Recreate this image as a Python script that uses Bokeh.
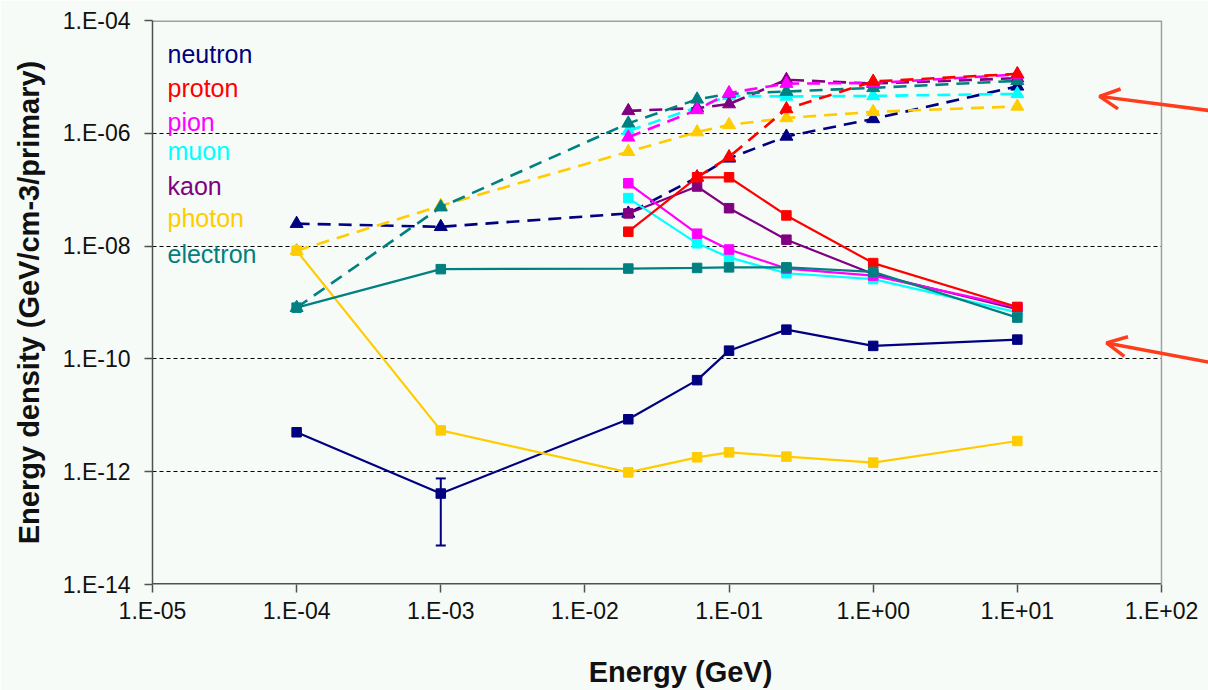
import math
from bokeh.plotting import figure
from bokeh.models import (ColumnDataSource, FixedTicker, Arrow, OpenHead, Whisker,
                          TeeHead, Range1d, BoxAnnotation, Span)
from bokeh.core.properties import value
from bokeh.embed import file_html
from bokeh.resources import INLINE

# ---------------- data ----------------
particles = ["neutron", "proton", "pion", "muon", "kaon", "photon", "electron"]
colors = ["#000080", "#FF0000", "#FF00FF", "#00FFFF", "#800080", "#FFCC00", "#008080"]

energy_all = [1e-4, 1e-3, 0.02, 0.06, 0.1, 0.25, 1.0, 10.0]
energy_hi = [0.02, 0.06, 0.1, 0.25, 1.0, 10.0]
energy_proton_dash = [0.06, 0.1, 0.25, 1.0, 10.0]

# solid lines (square markers)
neutron_solid = [5.0e-12, 4.1e-13, 8.5e-12, 4.2e-11, 1.4e-10, 3.3e-10, 1.7e-10, 2.2e-10]
photon_solid = [8.3e-9, 5.4e-12, 9.7e-13, 1.8e-12, 2.2e-12, 1.85e-12, 1.45e-12, 3.5e-12]
electron_solid = [8.1e-10, 3.9e-9, 4.0e-9, 4.1e-9, 4.2e-9, 4.2e-9, 3.5e-9, 5.4e-10]
proton_solid = [1.8e-8, 1.66e-7, 1.66e-7, 3.5e-8, 5.0e-9, 8.3e-10]
pion_solid = [1.3e-7, 1.66e-8, 8.7e-9, 4.0e-9, 3.0e-9, 8.3e-10]
muon_solid = [7.1e-8, 1.12e-8, 6.3e-9, 3.3e-9, 2.6e-9, 6.7e-10]
kaon_solid = [3.8e-8, 1.14e-7, 4.7e-8, 1.3e-8, 3.2e-9, 7.6e-10]

# dashed lines (triangle markers)
neutron_dash = [2.5e-8, 2.2e-8, 3.8e-8, 1.66e-7, 3.6e-7, 8.8e-7, 1.8e-6, 6.8e-6]
photon_dash = [8.3e-9, 5.2e-8, 4.7e-7, 1.05e-6, 1.41e-6, 1.87e-6, 2.4e-6, 3.0e-6]
electron_dash = [8.1e-10, 4.9e-8, 1.5e-6, 4.0e-6, 5.0e-6, 5.5e-6, 6.4e-6, 8.5e-6]
proton_dash = [1.66e-7, 3.8e-7, 2.7e-6, 8.3e-6, 1.13e-5]
pion_dash = [8.5e-7, 2.6e-6, 5.2e-6, 7.6e-6, 7.8e-6, 1.1e-5]
muon_dash = [1.1e-6, 2.9e-6, 4.6e-6, 4.5e-6, 4.6e-6, 5.0e-6]
kaon_dash = [2.5e-6, 2.8e-6, 3.3e-6, 8.9e-6, 7.6e-6, 9.5e-6]

# error bar on neutron (solid) at 1e-3
err_energy = [1e-3]
err_low = [4.9e-14]
err_high = [7.6e-13]

x_ticks = [1e-5, 1e-4, 1e-3, 1e-2, 1e-1, 1e0, 1e1, 1e2]
x_tick_labels = ["1.E-05", "1.E-04", "1.E-03", "1.E-02", "1.E-01", "1.E+00", "1.E+01", "1.E+02"]
y_ticks = [1e-14, 1e-12, 1e-10, 1e-8, 1e-6, 1e-4]
y_tick_labels = ["1.E-14", "1.E-12", "1.E-10", "1.E-08", "1.E-06", "1.E-04"]
y_grid = [1e-12, 1e-10, 1e-8, 1e-6]

# ---------------- figure ----------------
BG = "#F7FBF7"
FONT = "Liberation Sans"
AX = "#505050"
BORDER = "#A0A0A0"

PX_DEC_X = 144.14          # px per decade (x)
PX_DEC_Y = 56.5            # px per decade (y)
X0, XAX_END = 1e-5, 1e2    # visible axis extent
Y0, Y1 = 1e-14, 1e-4
LEFT, TOP, BOTTOM = 152, 20, 105
W, H = 1208, 690
FW = W - LEFT
X1 = 10 ** (math.log10(X0) + FW / PX_DEC_X)   # frame extends to page edge

p = figure(width=W, height=H, x_axis_type="log", y_axis_type="log",
           x_range=Range1d(X0, X1), y_range=Range1d(Y0, Y1),
           output_backend="svg", toolbar_location=None,
           min_border_left=LEFT, min_border_right=0, min_border_top=TOP,
           min_border_bottom=BOTTOM,
           background_fill_color=BG, border_fill_color=BG,
           outline_line_color=None)

def px_to_data(dx, dy):
    """offset in px from the frame's top-left corner -> data coords"""
    return (10 ** (math.log10(X0) + dx / PX_DEC_X),
            10 ** (math.log10(Y1) - dy / PX_DEC_Y))

p.xgrid.visible = False
p.ygrid.ticker = FixedTicker(ticks=y_grid)
p.ygrid.grid_line_color = "black"
p.ygrid.grid_line_dash = "4 3"
p.ygrid.grid_line_width = 1

p.xaxis.ticker = FixedTicker(ticks=x_ticks)
p.yaxis.ticker = FixedTicker(ticks=y_ticks)
p.xaxis.major_label_overrides = dict(zip(x_ticks, x_tick_labels))
p.yaxis.major_label_overrides = dict(zip(y_ticks, y_tick_labels))

for ax in (p.xaxis, p.yaxis):
    ax.axis_line_color = AX
    ax.axis_line_width = 1.5
    ax.major_tick_line_color = AX
    ax.major_tick_line_width = 1.5
    ax.major_tick_in = 0
    ax.major_tick_out = 8
    ax.minor_tick_line_color = None
    ax.major_label_text_font = FONT
    ax.major_label_text_font_size = "23px"
    ax.major_label_text_color = "#111111"
    ax.axis_label_text_font = FONT
    ax.axis_label_text_font_style = "bold"
    ax.axis_label_text_font_size = "29px"
    ax.axis_label_text_color = "#111111"

p.xaxis.axis_line_color = None     # drawn below, only up to 1E+02
p.xaxis.axis_label = "Energy (GeV)"
p.xaxis.major_label_standoff = 5
p.xaxis.axis_label_standoff = 29
p.yaxis.axis_label = "Energy density (GeV/cm-3/primary)"
p.yaxis.major_label_standoff = 14
p.yaxis.axis_label_standoff = 15

# hide grid beyond 1E+02 and draw the chart border there
p.add_layout(BoxAnnotation(left=XAX_END, fill_color=BG, fill_alpha=1.0,
                           line_color=None, level="underlay"))
p.add_layout(Span(location=XAX_END, dimension="height", line_color=BORDER,
                  line_width=1.5))
p.segment(x0=[X0], y0=[Y1], x1=[XAX_END], y1=[Y1], line_color=BORDER, line_width=3)
p.segment(x0=[X0], y0=[Y0], x1=[XAX_END], y1=[Y0], line_color=AX, line_width=3)

cmap = dict(zip(particles, colors))

# dashed series
dash_series = [
    ("neutron", energy_all, neutron_dash),
    ("photon", energy_all, photon_dash),
    ("muon", energy_hi, muon_dash),
    ("kaon", energy_hi, kaon_dash),
    ("electron", energy_all, electron_dash),
    ("pion", energy_hi, pion_dash),
    ("proton", energy_proton_dash, proton_dash),
]
for name, xs, ys in dash_series:
    src = ColumnDataSource(dict(x=xs, y=ys))
    c = cmap[name]
    p.line("x", "y", source=src, line_color=c, line_width=2.6, line_dash="13 8")
    p.scatter("x", "y", source=src, marker="triangle", size=13,
              fill_color=c, line_color=c)

solid_series = [
    ("neutron", energy_all, neutron_solid),
    ("photon", energy_all, photon_solid),
    ("kaon", energy_hi, kaon_solid),
    ("muon", energy_hi, muon_solid),
    ("pion", energy_hi, pion_solid),
    ("proton", energy_hi, proton_solid),
    ("electron", energy_all, electron_solid),
]
for name, xs, ys in solid_series:
    src = ColumnDataSource(dict(x=xs, y=ys))
    c = cmap[name]
    p.line("x", "y", source=src, line_color=c, line_width=2.2)
    p.scatter("x", "y", source=src, marker="square", size=9.5,
              fill_color=c, line_color=c)

err_src = ColumnDataSource(dict(x=err_energy, lo=err_low, hi=err_high))
p.add_layout(Whisker(source=err_src, base="x", upper="hi", lower="lo",
                     dimension="height", line_color="#000080", line_width=2,
                     upper_head=TeeHead(size=10, line_color="#000080", line_width=2),
                     lower_head=TeeHead(size=10, line_color="#000080", line_width=2)))

# legend (text only, coloured)
leg_offsets = [33.5, 67.5, 102, 131, 166, 197.5, 233.5]
leg_x, leg_y = [], []
for b in leg_offsets:
    x, y = px_to_data(15, b)
    leg_x.append(x)
    leg_y.append(y)
leg_src = ColumnDataSource(dict(x=leg_x, y=leg_y, t=particles, c=colors))
p.text("x", "y", text="t", source=leg_src, text_color="c",
       text_font=value(FONT), text_font_size="25px", text_baseline="alphabetic")

# red arrows pointing at the two groups of curves
ARROW = "#FF3C1C"
for (tx, ty), (sx, sy) in [((947, 76), (1063, 91)), ((954, 323), (1063, 343.5))]:
    xs_, ys_ = px_to_data(sx, sy)
    xe_, ye_ = px_to_data(tx, ty)
    p.add_layout(Arrow(x_start=xs_, y_start=ys_, x_end=xe_, y_end=ye_,
                       line_color=ARROW, line_width=3.5,
                       end=OpenHead(size=20, line_color=ARROW, line_width=3.5)))

open("out.html", "w").write(file_html(p, INLINE))
